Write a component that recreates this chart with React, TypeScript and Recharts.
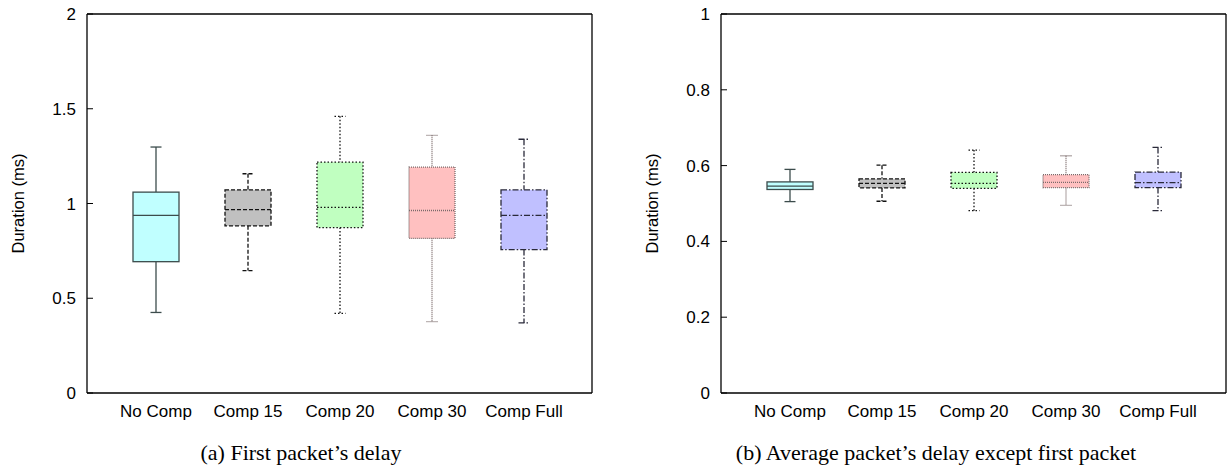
import React from 'react';
import { ComposedChart, Bar, XAxis, YAxis } from 'recharts';

const categories = ['No Comp', 'Comp 15', 'Comp 20', 'Comp 30', 'Comp Full'];

// (a) First packet's delay
const firstMin = [0.425, 0.646, 0.42, 0.377, 0.37];
const firstQ1 = [0.693, 0.882, 0.873, 0.816, 0.757];
const firstMedian = [0.937, 0.968, 0.98, 0.963, 0.937];
const firstQ3 = [1.06, 1.072, 1.218, 1.192, 1.072];
const firstMax = [1.298, 1.157, 1.46, 1.36, 1.339];
const firstTicks = [0, 0.5, 1, 1.5, 2];

// (b) Average packet's delay except first packet
const avgMin = [0.505, 0.506, 0.481, 0.495, 0.481];
const avgQ1 = [0.537, 0.541, 0.54, 0.542, 0.542];
const avgMedian = [0.546, 0.553, 0.553, 0.556, 0.555];
const avgQ3 = [0.557, 0.565, 0.582, 0.576, 0.583];
const avgMax = [0.59, 0.601, 0.641, 0.626, 0.648];
const avgTicks = [0, 0.2, 0.4, 0.6, 0.8, 1];

const boxFills = ['#c0ffff', '#c0c0c0', '#c0ffc0', '#ffc0c0', '#c0c0ff'];
const boxStrokes = ['#3c4c4c', '#111111', '#111111', '#7a6a6a', '#2a2a3a'];
const boxDashes = [undefined, '4 2', '1.5 2', '1 1', '6 2 1.5 2'];

const FONT = '"Liberation Sans", Arial, Helvetica, sans-serif';
const SERIF = '"Liberation Serif", "Times New Roman", serif';

function buildRows(mn: number[], q1: number[], med: number[], q3: number[], mx: number[]) {
  return categories.map((name, i) => ({
    name,
    box: [q1[i], q3[i]],
    min: mn[i],
    q1: q1[i],
    median: med[i],
    q3: q3[i],
    max: mx[i],
  }));
}

const firstRows = buildRows(firstMin, firstQ1, firstMedian, firstQ3, firstMax);
const avgRows = buildRows(avgMin, avgQ1, avgMedian, avgQ3, avgMax);

const BoxShape = (props: any) => {
  const { x, y, width, height, payload } = props;
  if (!payload) return null;
  const i = Math.max(0, categories.indexOf(payload.name));
  const top = Math.min(y, y + height);
  const h = Math.abs(height);
  const k = h / (payload.q3 - payload.q1);
  const cx = x + width / 2;
  const yMed = top + (payload.q3 - payload.median) * k;
  const yMax = top - (payload.max - payload.q3) * k;
  const yMin = top + h + (payload.q1 - payload.min) * k;
  const cap = 5.5;
  const stroke = boxStrokes[i];
  const dash = boxDashes[i];
  const sw = 1.3;
  return (
    <g>
      <line x1={cx} x2={cx} y1={yMax} y2={top} stroke={stroke} strokeWidth={sw} strokeDasharray={dash} />
      <line x1={cx} x2={cx} y1={top + h} y2={yMin} stroke={stroke} strokeWidth={sw} strokeDasharray={dash} />
      <line x1={cx - cap} x2={cx + cap} y1={yMax} y2={yMax} stroke={stroke} strokeWidth={sw} strokeDasharray={dash} />
      <line x1={cx - cap} x2={cx + cap} y1={yMin} y2={yMin} stroke={stroke} strokeWidth={sw} strokeDasharray={dash} />
      <rect x={x} y={top} width={width} height={h} fill={boxFills[i]} stroke={stroke} strokeWidth={sw} strokeDasharray={dash} />
      <line x1={x} x2={x + width} y1={yMed} y2={yMed} stroke={stroke} strokeWidth={sw} strokeDasharray={dash} />
    </g>
  );
};

function Panel({ data, domain, ticks, left }: { data: any[]; domain: [number, number]; ticks: number[]; left: number }) {
  return (
    <div style={{ position: 'absolute', left, top: 0 }}>
      <ComposedChart width={593} height={430} data={data} margin={{ top: 13, right: 0, left: 0, bottom: 0 }}>
        <XAxis
          xAxisId="b"
          dataKey="name"
          padding={{ left: 23, right: 22 }}
          height={37}
          interval={0}
          tickLine={false}
          tickMargin={6}
          axisLine={{ stroke: '#000', strokeWidth: 1.3 }}
          tick={{ fontSize: 17, fill: '#000', fontFamily: FONT }}
        />
        <XAxis
          xAxisId="t"
          dataKey="name"
          orientation="top"
          height={1}
          tick={false}
          tickLine={false}
          axisLine={{ stroke: '#000', strokeWidth: 1.3 }}
        />
        <YAxis
          yAxisId="l"
          type="number"
          domain={domain}
          ticks={ticks}
          width={87}
          tickSize={-6}
          tickMargin={17}
          axisLine={{ stroke: '#000', strokeWidth: 1.3 }}
          tickLine={{ stroke: '#000' }}
          tick={{ fontSize: 17, fill: '#000', fontFamily: FONT }}
          label={{
            value: 'Duration (ms)',
            angle: -90,
            position: 'insideLeft',
            offset: 18,
            style: { textAnchor: 'middle', fontSize: 16.5, fill: '#000', fontFamily: FONT },
          }}
        />
        <YAxis
          yAxisId="r"
          orientation="right"
          type="number"
          domain={domain}
          ticks={ticks}
          width={1}
          tickSize={-6}
          tick={false}
          axisLine={{ stroke: '#000', strokeWidth: 1.3 }}
          tickLine={{ stroke: '#000' }}
        />
        <Bar xAxisId="b" yAxisId="l" dataKey="box" barSize={46} shape={<BoxShape />} isAnimationActive={false} />
      </ComposedChart>
    </div>
  );
}

export default function App() {
  return (
    <div style={{ position: 'absolute', left: 0, top: 0, width: 1230, height: 468, overflow: 'hidden', background: '#fff' }}>
      <Panel data={firstRows} domain={[0, 2]} ticks={firstTicks} left={0} />
      <Panel data={avgRows} domain={[0, 1]} ticks={avgTicks} left={634} />
      <svg width={1230} height={468} style={{ position: 'absolute', left: 0, top: 0, pointerEvents: 'none' }}>
        <text x={301} y={460} textAnchor="middle" fontFamily={SERIF} fontSize={22} fill="#000">
          (a) First packet’s delay
        </text>
        <text x={936} y={460} textAnchor="middle" fontFamily={SERIF} fontSize={22} fill="#000">
          (b) Average packet’s delay except first packet
        </text>
      </svg>
    </div>
  );
}
